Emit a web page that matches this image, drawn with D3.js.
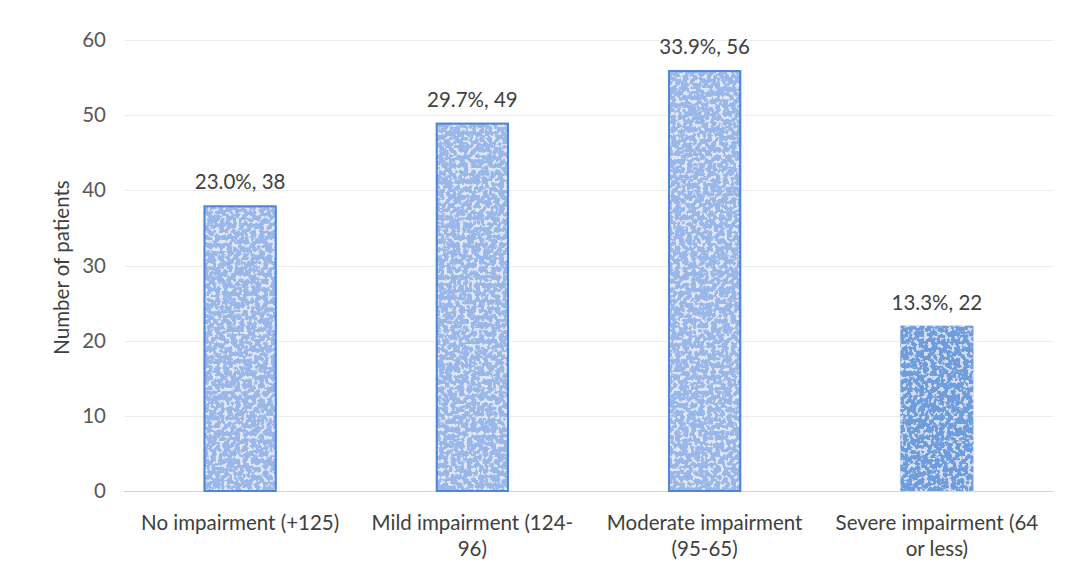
<!DOCTYPE html>
<html>
<head>
<meta charset="utf-8">
<script src="https://cdn.jsdelivr.net/npm/d3@7"></script>
<style>
  body { margin: 0; background: #fff; }
  svg text { font-family: Lato, "Open Sans", sans-serif; fill: #404040; }
</style>
</head>
<body>
<svg id="chart" width="1066" height="575"></svg>
<script>
// Patients by impairment group
const categories = [
  "No impairment (+125)",
  "Mild impairment (124-96)",
  "Moderate impairment (95-65)",
  "Severe impairment (64 or less)"
];
const patients = [38, 49, 56, 22];
const percents = ["23.0%", "29.7%", "33.9%", "13.3%"];
const yTicks = [0, 10, 20, 30, 40, 50, 60];

const svg = d3.select("#chart");
const margin = { left: 124, right: 13, top: 40, bottom: 84 };
const W = 1066, H = 575;
const FS = 20.5;

const x = d3.scaleBand()
  .domain(categories)
  .range([margin.left, W - margin.right])
  .paddingInner(0.685)
  .paddingOuter(0.3425);

const y = d3.scaleLinear()
  .domain([0, 60])
  .range([H - margin.bottom, margin.top]);

// Light mottled texture for the bar fills
const defs = svg.append("defs");
const f = defs.append("filter").attr("id", "speckle")
  .attr("x", 0).attr("y", 0).attr("width", 1).attr("height", 1);
f.append("feTurbulence").attr("type", "fractalNoise")
  .attr("baseFrequency", 0.25).attr("numOctaves", 2).attr("seed", 7).attr("result", "noise");
f.append("feColorMatrix").attr("in", "noise").attr("type", "matrix")
  .attr("values", "0 0 0 0 1  0 0 0 0 1  0 0 0 0 1  0 0 0 -10 4.7").attr("result", "spots");
f.append("feComposite").attr("in", "spots").attr("in2", "SourceGraphic").attr("operator", "in").attr("result", "clipped");
f.append("feComponentTransfer").attr("in", "clipped").attr("result", "soft")
  .append("feFuncA").attr("type", "linear").attr("slope", 0.6);
f.append("feMerge").selectAll("feMergeNode").data(["SourceGraphic", "soft"])
  .enter().append("feMergeNode").attr("in", d => d);

// Gridlines
svg.append("g").selectAll("line").data(yTicks).enter().append("line")
  .attr("x1", margin.left).attr("x2", W - margin.right)
  .attr("y1", d => Math.round(y(d)) + 0.5).attr("y2", d => Math.round(y(d)) + 0.5)
  .attr("stroke", d => d === 0 ? "#d4d4d4" : "#ececec").attr("stroke-width", 1);

// Y axis labels
const yAxis = d3.axisLeft(y).tickValues(yTicks).tickSize(0).tickPadding(0);
const gy = svg.append("g").attr("transform", `translate(${margin.left - 18},0)`).call(yAxis);
gy.select(".domain").remove();
gy.selectAll("text").attr("font-size", FS).style("fill", "#595959")
  .style("font-family", "Lato, 'Open Sans', sans-serif");

// Y axis title
svg.append("text")
  .attr("transform", `translate(69,${(y(0) + y(60)) / 2 + 2}) rotate(-90)`)
  .attr("text-anchor", "middle").attr("font-size", FS)
  .text("Number of patients");

// Bars: textured fill plus an outline on the first three
const fills = ["#9ab7ea", "#9ab7ea", "#9ab7ea", "#6e9ddd"];
const bars = svg.append("g").selectAll("g").data(categories).enter().append("g");
bars.append("rect")
  .attr("x", d => x(d))
  .attr("y", (d, i) => y(patients[i]))
  .attr("width", x.bandwidth())
  .attr("height", (d, i) => y(0) - y(patients[i]))
  .attr("fill", (d, i) => fills[i])
  .attr("filter", "url(#speckle)");
bars.filter((d, i) => i < 3).append("rect")
  .attr("x", d => x(d) + 1)
  .attr("y", (d, i) => y(patients[i]) + 1)
  .attr("width", x.bandwidth() - 2)
  .attr("height", (d, i) => y(0) - y(patients[i]) - 1)
  .attr("fill", "none")
  .attr("stroke", "#4f87d6")
  .attr("stroke-width", 2);

// Value labels
svg.append("g").selectAll("text").data(categories).enter().append("text")
  .attr("x", d => x(d) + x.bandwidth() / 2)
  .attr("y", (d, i) => y(patients[i]) - 16)
  .attr("text-anchor", "middle").attr("font-size", FS)
  .text((d, i) => `${percents[i]}, ${patients[i]}`);

// Category labels, wrapped to fit under each bar
function wrapLines(text, maxW, size) {
  const ctx = document.createElement("canvas").getContext("2d");
  ctx.font = `${size}px Lato`;
  const words = text.split(" ");
  const lines = [];
  let cur = "";
  words.forEach(w => {
    const t = cur ? cur + " " + w : w;
    if (ctx.measureText(t).width > maxW && cur) {
      const parts = w.split("-");
      if (parts.length > 1 && ctx.measureText(cur + " " + parts[0] + "-").width <= maxW) {
        lines.push(cur + " " + parts[0] + "-");
        cur = parts.slice(1).join("-");
      } else {
        lines.push(cur);
        cur = w;
      }
    } else cur = t;
  });
  lines.push(cur);
  return lines;
}
const xl = svg.append("g");
categories.forEach(c => {
  const lines = wrapLines(c, 222, FS);
  const t = xl.append("text").attr("text-anchor", "middle").attr("font-size", FS);
  lines.forEach((ln, k) => {
    t.append("tspan").attr("x", x(c) + x.bandwidth() / 2)
      .attr("y", 530 + k * 26).text(ln);
  });
});
</script>
</body>
</html>
